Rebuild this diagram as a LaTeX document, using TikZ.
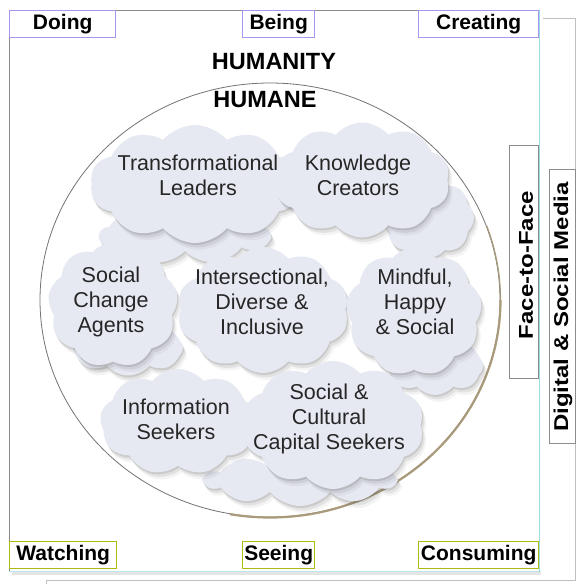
\documentclass[tikz,border=0pt]{standalone}
\usepackage{fontspec}
\setmainfont{Liberation Sans}
\usetikzlibrary{shapes.symbols,shadows}
\definecolor{cloudfill}{HTML}{E7E9F2}
\definecolor{toplab}{HTML}{A994F0}
\definecolor{botlab}{HTML}{AABC10}
\definecolor{cyanedge}{HTML}{9ADCE4}
\definecolor{tanedge}{HTML}{A89A7A}
\definecolor{frame}{HTML}{8C8C8C}
\begin{document}
\begin{tikzpicture}[x=1pt,y=-1pt,
  lab/.style={font=\fontsize{21}{24}\selectfont\bfseries, inner sep=0pt},
  labbox/.style={lab, fill=white, line width=1.4pt, anchor=north west},
  ctext/.style={font=\fontsize{21.5}{25}\selectfont, align=center, text=black!85, inner sep=0pt},
  puff/.style={cloud, cloud puffs=#1, cloud puff arc=100, fill=cloudfill, draw=none, inner sep=0pt,
    drop shadow={shadow xshift=1pt,shadow yshift=-2pt,opacity=.16,fill=black!70},
    drop shadow={shadow xshift=2.5pt,shadow yshift=-4.5pt,opacity=.10,fill=black!70},
    drop shadow={shadow xshift=4pt,shadow yshift=-7pt,opacity=.06,fill=black!70}},
  vlab/.style={font=\fontsize{20}{24}\selectfont\bfseries, rotate=90, inner sep=0pt},
]
\useasboundingbox (0,0) rectangle (576,584);
% background frames
\draw[black!25, line width=0.6pt] (543,18) -- (575.5,18) -- (575.5,580) -- (46,580) -- (46,584);
\fill[black!20, opacity=.5] (12,571) rectangle (541,575);
\draw[frame, fill=white, line width=0.7pt] (9,10) rectangle (539,571);
\draw[cyanedge, line width=1.2pt] (539.5,10) -- (539.5,572);
\draw[cyanedge!70, line width=0.8pt] (9,571.5) -- (539,571.5);
% right boxes
\draw[frame, fill=white, line width=0.6pt] (509,145) rectangle (538.5,378);
\draw[frame, fill=white, line width=0.6pt] (549,169) rectangle (575.5,443);
\node[vlab, xscale=1.2] (f2f) at (526,265) {Face-to-Face};
\node[vlab, xscale=1.2] (dsm) at (563,307) {Digital \& Social Media};
% circle
\draw[black!55, line width=0.8pt, fill=white] (270,300) ellipse [x radius=230, y radius=217];
\draw[tanedge, line width=2.2pt] (500.5,300) arc[start angle=0, end angle=100, x radius=230.5, y radius=217.5];
\draw[tanedge, line width=1.2pt] (270,300) ++(-20:230.5 and 217.5) arc[start angle=-20, end angle=0, x radius=230.5, y radius=217.5];
% clouds (back pieces first)
\node[puff=9, minimum width=170pt, minimum height=58pt] (a2) at (185,235) {};
\node[puff=8, minimum width=92pt, minimum height=80pt] (b2) at (428,218) {};
\node[puff=10, minimum width=210pt, minimum height=118pt] (a1) at (195,184) {};
\node[puff=10, minimum width=176pt, minimum height=115pt] (b1) at (362,180) {};
\node[puff=8, minimum width=110pt, minimum height=55pt] (c2) at (128,348) {};
\node[puff=8, minimum width=96pt, minimum height=58pt] (e2) at (435,366) {};
\node[puff=9, minimum width=130pt, minimum height=125pt] (c1) at (113,305) {};
\node[puff=10, minimum width=172pt, minimum height=126pt] (d1) at (263,310) {};
\node[puff=9, minimum width=136pt, minimum height=128pt] (e1) at (414,312) {};
\node[puff=10, minimum width=190pt, minimum height=52pt] (g2) at (300,480) {};
\node[puff=9, minimum width=156pt, minimum height=106pt] (f1) at (178,422) {};
\node[puff=10, minimum width=182pt, minimum height=128pt] (g1) at (333,425) {};
% cloud texts
\node[ctext] (t1) at (198,175) {Transformational\\Leaders};
\node[ctext] (t2) at (358,175) {Knowledge\\Creators};
\node[ctext] (t3) at (111,302) {Social\\Change\\Agents};
\node[ctext] (t4) at (262,302) {Intersectional,\\Diverse \&\\Inclusive};
\node[ctext] (t5) at (415,302) {Mindful,\\Happy\\\& Social};
\node[ctext] (t6) at (176,419) {Information\\Seekers};
\node[ctext] (t7) at (329,419) {Social \&\\Cultural\\Capital Seekers};
% titles
\node[lab, font=\fontsize{23.5}{26}\selectfont\bfseries] (hy) at (274,62) {HUMANITY};
\node[lab, font=\fontsize{23.5}{26}\selectfont\bfseries] (he) at (265,100) {HUMANE};
% corner labels
\node[labbox, draw=toplab, minimum width=106pt, minimum height=27pt] (doing) at (9,10) {Doing};
\node[labbox, draw=toplab, minimum width=72pt, minimum height=27pt] (being) at (242,10) {Being};
\node[labbox, draw=toplab, minimum width=120pt, minimum height=27pt] (creating) at (418,10) {Creating};
\node[labbox, draw=botlab, minimum width=107pt, minimum height=27pt] (watching) at (9,541) {Watching};
\node[labbox, draw=botlab, minimum width=72pt, minimum height=27pt] (seeing) at (242,541) {Seeing};
\node[labbox, draw=botlab, minimum width=120pt, minimum height=27pt] (consuming) at (418,541) {Consuming};
\end{tikzpicture}
\end{document}
